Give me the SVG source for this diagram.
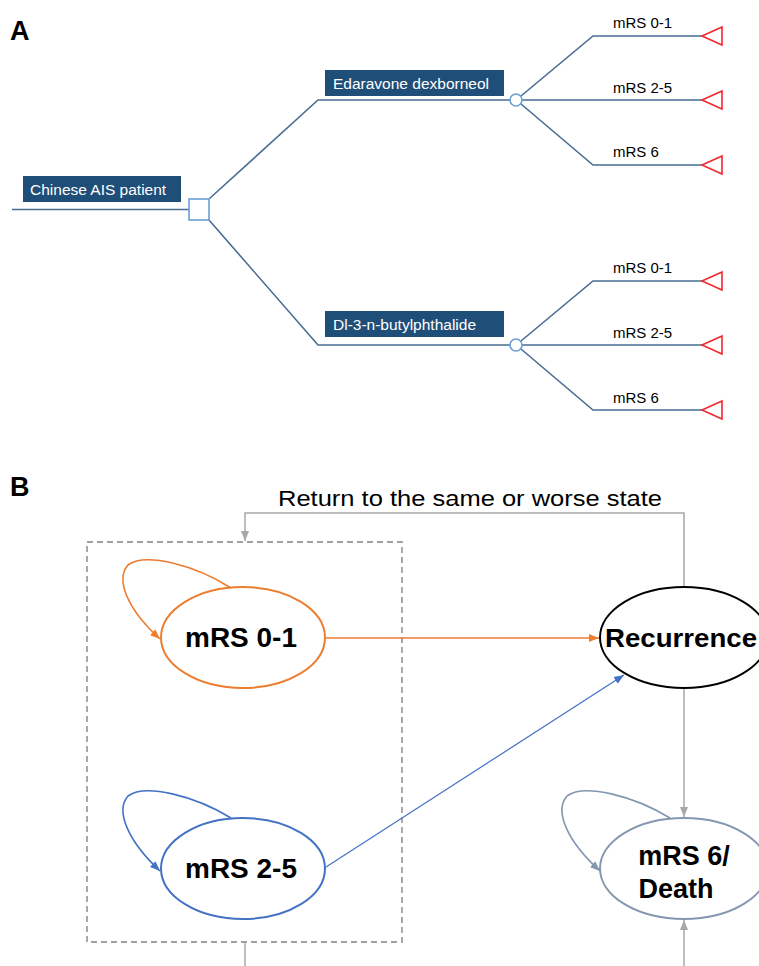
<svg xmlns="http://www.w3.org/2000/svg" width="759" height="966" viewBox="0 0 759 966">
<style>
.panel{font-family:"Liberation Sans",Arial,sans-serif;font-weight:bold;font-size:27px;fill:#000}
.box{fill:#1F4E79}
.boxt{font-family:"Liberation Sans",Arial,sans-serif;font-size:15.5px;fill:#fff}
.lbl{font-family:"Liberation Sans",Arial,sans-serif;font-size:15px;fill:#000}
.tree{fill:none;stroke:#4A6D93;stroke-width:1.6}
.chance{fill:#fff;stroke:#6A9FD6;stroke-width:1.6}
.term{fill:#fff;stroke:#F0282D;stroke-width:1.6}
.st{font-family:"Liberation Sans",Arial,sans-serif;font-weight:bold;font-size:27px;fill:#000;text-anchor:middle}
.gray{fill:none;stroke:#A8A8A8;stroke-width:1.5}
</style>
<defs>
<marker id="aO" viewBox="0 0 10 10" refX="10" refY="5" markerWidth="10" markerHeight="10" markerUnits="userSpaceOnUse" orient="auto"><path d="M0,1 L10,5 L0,9 z" fill="#ED7D31"/></marker>
<marker id="aB" viewBox="0 0 10 10" refX="10" refY="5" markerWidth="10" markerHeight="10" markerUnits="userSpaceOnUse" orient="auto"><path d="M0,1 L10,5 L0,9 z" fill="#4472C4"/></marker>
<marker id="aG" viewBox="0 0 10 10" refX="10" refY="5" markerWidth="10" markerHeight="10" markerUnits="userSpaceOnUse" orient="auto"><path d="M0,1 L10,5 L0,9 z" fill="#A8A8A8"/></marker>
<marker id="aS" viewBox="0 0 10 10" refX="10" refY="5" markerWidth="10" markerHeight="10" markerUnits="userSpaceOnUse" orient="auto"><path d="M0,1 L10,5 L0,9 z" fill="#8497B0"/></marker>
</defs>
<rect width="759" height="966" fill="#fff"/>

<text class="panel" x="10" y="40">A</text>
<text class="panel" x="10" y="496">B</text>

<!-- Panel A connectors -->
<g id="tree-connectors">
<path class="tree" d="M12,209.5 H189"/>
<path class="tree" d="M209,199 L318,100 H510"/>
<path class="tree" d="M209,220 L318,345 H510"/>
<path class="tree" d="M521,96 L593,36 H702 M522,100 H702 M521,104 L593,165 H702"/>
<path class="tree" d="M521,341 L593,281 H702 M522,345 H702 M521,349 L593,410 H702"/>
</g>

<g id="root">
<rect class="box" x="23" y="176" width="158" height="26"/>
<text class="boxt" x="30" y="195">Chinese AIS patient</text>
<rect class="chance" x="189" y="199" width="20" height="21"/>
</g>

<g id="edaravone">
<rect class="box" x="325" y="70" width="179" height="26"/>
<text class="boxt" x="333" y="89">Edaravone dexborneol</text>
<circle class="chance" cx="516" cy="100" r="6"/>
</g>

<g id="nbp">
<rect class="box" x="325" y="311" width="179" height="26"/>
<text class="boxt" x="333" y="330">Dl-3-n-butylphthalide</text>
<circle class="chance" cx="516" cy="345" r="6"/>
</g>

<g id="outcomes-edaravone">
<text class="lbl" x="613" y="28">mRS 0-1</text>
<text class="lbl" x="613" y="93">mRS 2-5</text>
<text class="lbl" x="613" y="157">mRS 6</text>
<path class="term" d="M702,36 L722,27 V45 z"/>
<path class="term" d="M702,100 L722,91 V109 z"/>
<path class="term" d="M702,165 L722,156 V174 z"/>
</g>

<g id="outcomes-nbp">
<text class="lbl" x="613" y="273">mRS 0-1</text>
<text class="lbl" x="613" y="338">mRS 2-5</text>
<text class="lbl" x="613" y="403">mRS 6</text>
<path class="term" d="M702,281 L722,272 V290 z"/>
<path class="term" d="M702,345 L722,336 V354 z"/>
<path class="term" d="M702,410 L722,401 V419 z"/>
</g>

<!-- Panel B -->
<text id="return-label" x="278" y="506" textLength="384" lengthAdjust="spacingAndGlyphs" style="font-family:'Liberation Sans',Arial,sans-serif;font-size:22px;fill:#000">Return to the same or worse state</text>

<g id="group-box">
<rect x="87" y="542" width="315" height="400" fill="none" stroke="#A0A0A0" stroke-width="1.8" stroke-dasharray="6,4"/>
</g>

<g id="markov-connectors">
<path class="gray" d="M684,587 V513 H245 V541" marker-end="url(#aG)"/>
<path class="gray" d="M245,942 V966"/>
<path class="gray" d="M684,688 V817" marker-end="url(#aG)"/>
<path class="gray" d="M684,966 V920" marker-end="url(#aG)"/>
<path d="M326,638 H599" fill="none" stroke="#ED7D31" stroke-width="1.4" marker-end="url(#aO)"/>
<path d="M326,867 L624,675" fill="none" stroke="#4472C4" stroke-width="1.2" marker-end="url(#aB)"/>
<path d="M231,588 C195,565 145,552 128,565 C115,580 128,610 160,639" fill="none" stroke="#ED7D31" stroke-width="1.6" marker-end="url(#aO)"/>
<path d="M231,818 C195,796 145,783 128,796 C115,811 128,841 160,871" fill="none" stroke="#4472C4" stroke-width="1.6" marker-end="url(#aB)"/>
<path d="M670,818 C634,796 584,783 567,796 C554,811 567,841 600,871" fill="none" stroke="#8497B0" stroke-width="1.6" marker-end="url(#aS)"/>
</g>

<g id="mrs01">
<ellipse cx="243" cy="637.5" rx="82" ry="50.5" fill="#fff" stroke="#ED7D31" stroke-width="2"/>
<text class="st" x="241" y="647" textLength="112" lengthAdjust="spacingAndGlyphs">mRS 0-1</text>
</g>

<g id="mrs25">
<ellipse cx="243" cy="868.5" rx="82" ry="50.5" fill="#fff" stroke="#4472C4" stroke-width="2"/>
<text class="st" x="241" y="878" textLength="112" lengthAdjust="spacingAndGlyphs">mRS 2-5</text>
</g>

<g id="recurrence">
<ellipse cx="684" cy="637.5" rx="84" ry="50.5" fill="#fff" stroke="#000" stroke-width="2"/>
<text x="605" y="647" textLength="152" lengthAdjust="spacingAndGlyphs" style="font-family:'Liberation Sans',Arial,sans-serif;font-weight:bold;font-size:26px;fill:#000">Recurrence</text>
</g>

<g id="death">
<ellipse cx="684" cy="868.5" rx="84" ry="50.5" fill="#fff" stroke="#8497B0" stroke-width="2"/>
<text class="st" x="684" y="865">mRS 6/</text>
<text class="st" x="676" y="898">Death</text>
</g>
</svg>
